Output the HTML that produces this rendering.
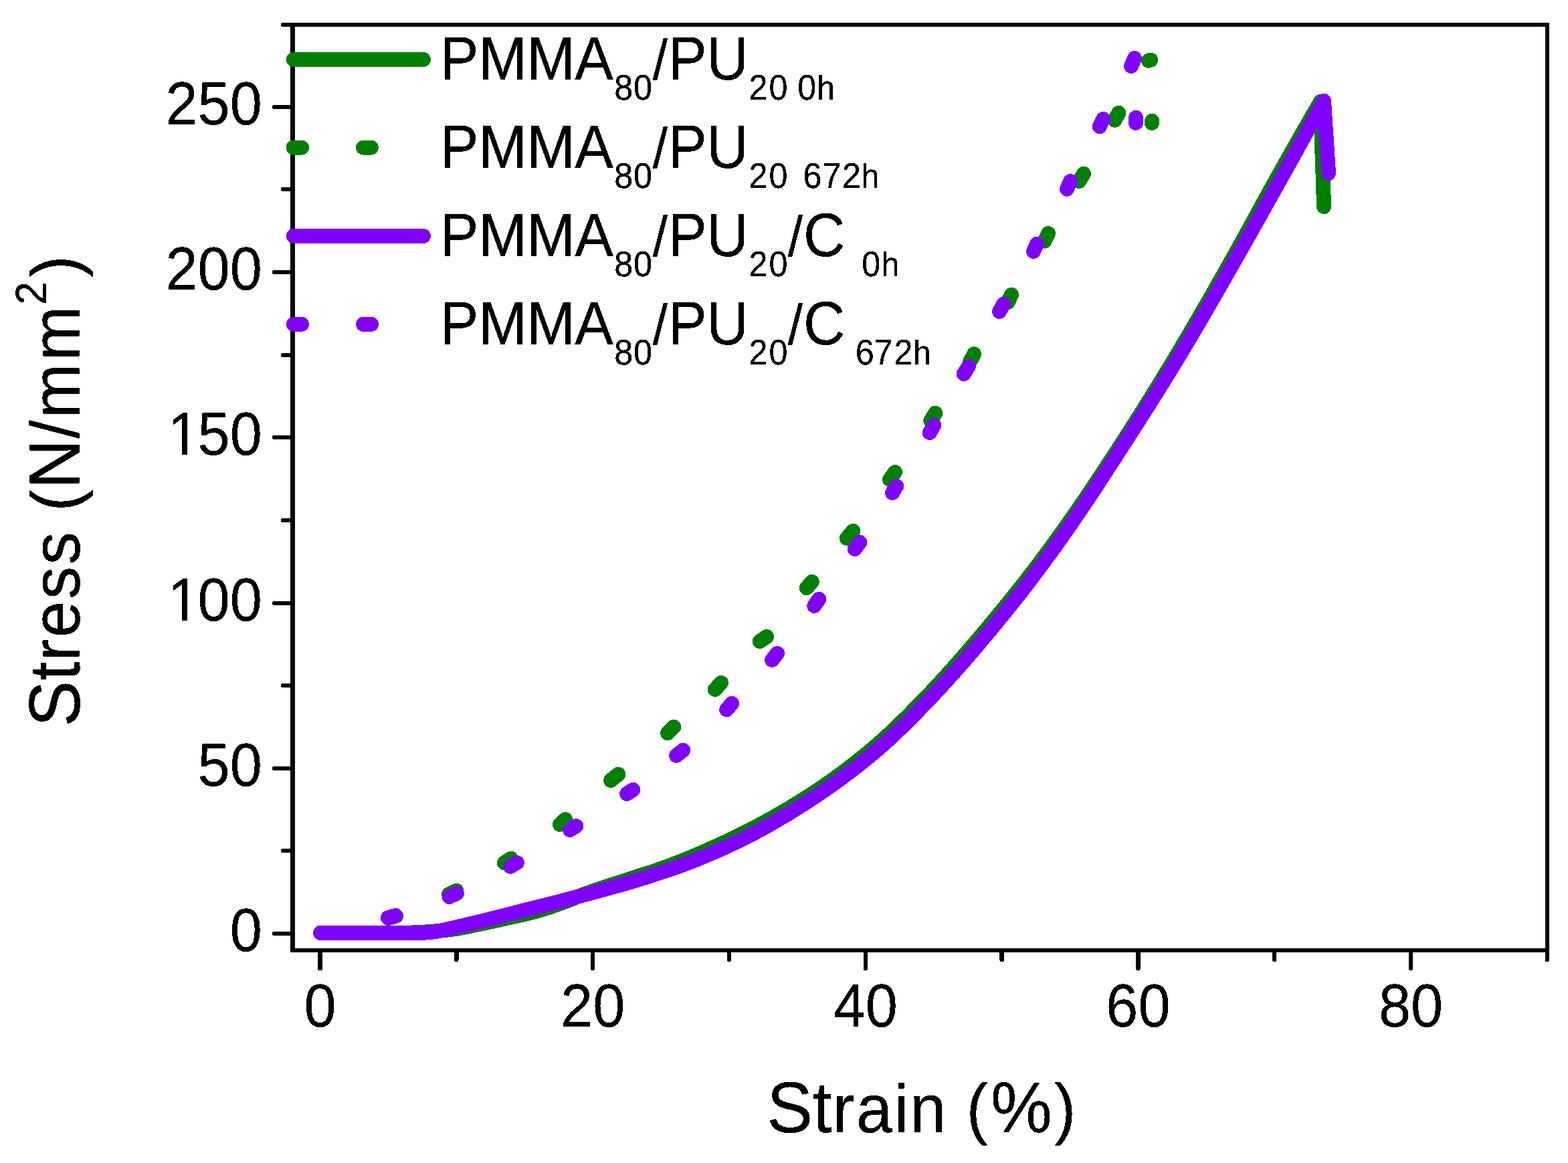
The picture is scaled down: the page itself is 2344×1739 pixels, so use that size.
<!DOCTYPE html>
<html lang="en">
<head>
<meta charset="utf-8">
<title>Stress-strain curves</title>
<style>
html,body{margin:0;padding:0;background:#ffffff;}
body{width:2344px;height:1739px;overflow:hidden;}
svg{display:block;}
</style>
</head>
<body>
<svg width="2344" height="1739" viewBox="0 0 2344 1739">
<rect x="0" y="0" width="2344" height="1739" fill="#ffffff"/>
<g id="frame" fill="#000000" shape-rendering="crispEdges">
<rect x="434" y="34" width="7" height="1390"/>
<rect x="2310" y="34" width="6" height="1390"/>
<rect x="434" y="34" width="1882" height="6"/>
<rect x="434" y="1418" width="1882" height="6"/>
</g>
<g id="ticks" stroke="#000000" stroke-width="6" stroke-linecap="round" fill="none" shape-rendering="crispEdges">
<line x1="410" y1="1396" x2="436" y2="1396"/>
<line x1="423" y1="1272" x2="436" y2="1272"/>
<line x1="410" y1="1149" x2="436" y2="1149"/>
<line x1="423" y1="1025" x2="436" y2="1025"/>
<line x1="410" y1="902" x2="436" y2="902"/>
<line x1="423" y1="778" x2="436" y2="778"/>
<line x1="410" y1="654" x2="436" y2="654"/>
<line x1="423" y1="531" x2="436" y2="531"/>
<line x1="410" y1="407" x2="436" y2="407"/>
<line x1="423" y1="283" x2="436" y2="283"/>
<line x1="410" y1="160" x2="436" y2="160"/>
<line x1="423" y1="37" x2="436" y2="37"/>
<line x1="478.5" y1="1422" x2="478.5" y2="1448" stroke-width="6.5"/>
<line x1="682.3" y1="1422" x2="682.3" y2="1435" stroke-width="6.5"/>
<line x1="886.1" y1="1422" x2="886.1" y2="1448" stroke-width="6.5"/>
<line x1="1089.9" y1="1422" x2="1089.9" y2="1435" stroke-width="6.5"/>
<line x1="1293.8" y1="1422" x2="1293.8" y2="1448" stroke-width="6.5"/>
<line x1="1497.6" y1="1422" x2="1497.6" y2="1435" stroke-width="6.5"/>
<line x1="1701.4" y1="1422" x2="1701.4" y2="1448" stroke-width="6.5"/>
<line x1="1905.2" y1="1422" x2="1905.2" y2="1435" stroke-width="6.5"/>
<line x1="2109.0" y1="1422" x2="2109.0" y2="1448" stroke-width="6.5"/>
<line x1="2312.8" y1="1422" x2="2312.8" y2="1435" stroke-width="6.5"/>
</g>
<g id="curves" fill="none" stroke-width="22" stroke-linecap="round" stroke-linejoin="round" shape-rendering="crispEdges">
<path stroke="#008000" d="M479.0,1394.9 L485.0,1394.9 L491.0,1394.9 L497.0,1394.9 L503.0,1394.9 L509.0,1394.9 L515.0,1394.9 L521.0,1394.9 L527.0,1394.9 L533.0,1394.9 L539.0,1394.9 L545.0,1394.9 L551.0,1394.9 L557.0,1394.9 L563.0,1394.9 L569.0,1394.9 L575.0,1394.9 L581.0,1394.9 L587.0,1394.9 L593.0,1394.9 L599.0,1394.9 L600.0,1394.9 L605.0,1394.8 L611.0,1394.7 L617.0,1394.4 L620.0,1394.3 L623.0,1394.2 L629.0,1393.9 L635.0,1393.5 L640.0,1393.2 L641.0,1393.1 L647.0,1392.7 L653.0,1392.2 L659.0,1391.6 L660.0,1391.5 L665.0,1391.0 L671.0,1390.3 L677.0,1389.6 L680.0,1389.2 L683.0,1388.8 L689.0,1387.7 L695.0,1386.6 L701.0,1385.3 L707.0,1384.0 L713.0,1382.7 L719.0,1381.4 L720.0,1381.2 L725.0,1380.2 L731.0,1378.9 L737.0,1377.6 L743.0,1376.3 L749.0,1375.0 L755.0,1373.6 L760.0,1372.5 L761.0,1372.3 L767.0,1370.9 L773.0,1369.6 L779.0,1368.3 L785.0,1366.9 L791.0,1365.4 L797.0,1363.9 L800.0,1363.1 L803.0,1362.3 L809.0,1360.5 L815.0,1358.7 L821.0,1356.8 L827.0,1354.7 L833.0,1352.7 L839.0,1350.6 L840.0,1350.2 L845.0,1348.3 L851.0,1345.9 L857.0,1343.5 L863.0,1341.0 L869.0,1338.7 L870.0,1338.3 L875.0,1336.5 L881.0,1334.3 L887.0,1332.2 L893.0,1330.2 L899.0,1328.1 L900.0,1327.8 L905.0,1326.1 L911.0,1324.2 L917.0,1322.2 L923.0,1320.3 L929.0,1318.4 L935.0,1316.5 L941.0,1314.6 L947.0,1312.6 L950.0,1311.6 L953.0,1310.6 L959.0,1308.6 L965.0,1306.6 L971.0,1304.7 L977.0,1302.7 L983.0,1300.6 L989.0,1298.5 L995.0,1296.4 L1001.0,1294.2 L1002.0,1293.8 L1007.0,1291.9 L1013.0,1289.6 L1019.0,1287.2 L1025.0,1284.8 L1031.0,1282.4 L1037.0,1279.9 L1043.0,1277.4 L1049.0,1274.8 L1055.0,1272.2 L1061.0,1269.5 L1067.0,1266.9 L1073.0,1264.1 L1079.0,1261.4 L1085.0,1258.6 L1091.0,1255.7 L1097.0,1252.9 L1100.0,1251.4 L1103.0,1249.9 L1109.0,1247.0 L1115.0,1244.0 L1121.0,1240.9 L1127.0,1237.8 L1133.0,1234.6 L1139.0,1231.4 L1145.0,1228.1 L1151.0,1224.8 L1157.0,1221.5 L1163.0,1218.0 L1169.0,1214.6 L1175.0,1211.1 L1181.0,1207.5 L1187.0,1203.8 L1193.0,1200.2 L1199.0,1196.4 L1200.0,1195.8 L1205.0,1192.6 L1211.0,1188.8 L1217.0,1184.8 L1223.0,1180.8 L1229.0,1176.8 L1235.0,1172.7 L1241.0,1168.5 L1247.0,1164.2 L1253.0,1159.8 L1259.0,1155.4 L1265.0,1150.9 L1271.0,1146.4 L1277.0,1141.7 L1283.0,1137.0 L1289.0,1132.2 L1295.0,1127.4 L1297.9,1125.0 L1301.0,1122.4 L1307.0,1117.3 L1313.0,1112.1 L1319.0,1106.8 L1325.0,1101.3 L1331.0,1095.8 L1337.0,1090.1 L1343.0,1084.3 L1349.0,1078.5 L1355.0,1072.6 L1361.0,1066.6 L1367.0,1060.5 L1373.0,1054.4 L1377.3,1050.0 L1379.0,1048.3 L1385.0,1042.0 L1391.0,1035.7 L1397.0,1029.3 L1403.0,1022.9 L1409.0,1016.3 L1415.0,1009.7 L1421.0,1003.1 L1427.0,996.3 L1433.0,989.6 L1439.0,982.7 L1445.0,975.8 L1451.0,968.8 L1457.0,961.8 L1463.0,954.7 L1469.0,947.6 L1475.0,940.5 L1481.0,933.3 L1487.0,926.0 L1493.0,918.7 L1499.0,911.4 L1505.0,904.1 L1508.3,900.0 L1511.0,896.7 L1517.0,889.2 L1523.0,881.7 L1529.0,874.1 L1535.0,866.4 L1541.0,858.6 L1547.0,850.7 L1553.0,842.8 L1559.0,834.8 L1565.0,826.7 L1571.0,818.6 L1577.0,810.4 L1583.0,802.1 L1584.5,800.0 L1589.0,793.7 L1595.0,785.3 L1601.0,776.7 L1607.0,768.1 L1613.0,759.4 L1619.0,750.6 L1625.0,741.8 L1631.0,732.8 L1637.0,723.9 L1643.0,714.8 L1649.0,705.8 L1655.0,696.6 L1661.0,687.5 L1667.0,678.3 L1673.0,669.0 L1679.0,659.8 L1685.0,650.5 L1685.3,650.0 L1691.0,641.1 L1697.0,631.7 L1703.0,622.3 L1709.0,612.7 L1715.0,603.2 L1721.0,593.5 L1727.0,583.8 L1733.0,574.1 L1739.0,564.3 L1745.0,554.4 L1751.0,544.5 L1757.0,534.5 L1759.7,530.0 L1763.0,524.5 L1769.0,514.4 L1775.0,504.2 L1781.0,494.0 L1787.0,483.7 L1793.0,473.4 L1799.0,463.0 L1805.0,452.6 L1811.0,442.1 L1817.0,431.6 L1823.0,421.0 L1829.0,410.5 L1835.0,399.9 L1841.0,389.2 L1846.2,380.0 L1847.0,378.6 L1853.0,367.8 L1859.0,357.0 L1865.0,346.1 L1871.0,335.1 L1877.0,324.2 L1883.0,313.2 L1889.0,302.2 L1895.0,291.3 L1901.0,280.4 L1906.8,270.0 L1907.0,269.6 L1913.0,258.9 L1919.0,248.3 L1925.0,237.6 L1931.0,227.0 L1937.0,216.5 L1943.0,205.9 L1949.0,195.4 L1955.0,184.9 L1961.0,174.5 L1967.0,164.1 L1973.0,153.7 L1974.0,152.0 L1979.1,309.1"/>
<path stroke="#008000" d="M580.8,1373.1 L592.0,1369.7 M671.1,1337.0 L682.4,1331.8 M753.9,1290.3 L763.9,1283.8 M837.0,1232.9 L845.2,1225.3 M913.1,1166.9 L924.4,1157.7 M998.0,1096.1 L1007.2,1086.9 M1068.8,1031.0 L1078.1,1021.0 M1135.8,959.0 L1146.0,952.0 M1205.8,879.1 L1213.8,869.9 M1265.9,804.9 L1275.3,793.9 M1330.0,717.1 L1338.0,706.1 M1391.3,628.9 L1398.3,617.7 M1450.0,540.8 L1456.0,529.4 M1506.5,452.2 L1512.0,440.8 M1561.7,360.6 L1567.1,349.1 M1613.4,270.9 L1620.0,259.8 M1666.3,179.7 L1672.3,168.9 M1717.0,90.7 L1720.2,89.7 M1721.9,184.0 L1722.2,180.8"/>
<path stroke="#8000ff" d="M479.0,1394.9 L485.0,1394.9 L491.0,1394.9 L497.0,1394.9 L503.0,1394.9 L509.0,1394.9 L515.0,1394.9 L521.0,1394.9 L527.0,1394.9 L533.0,1394.9 L539.0,1394.9 L545.0,1394.9 L551.0,1394.9 L557.0,1394.9 L563.0,1394.9 L569.0,1394.9 L575.0,1394.9 L581.0,1394.9 L587.0,1394.9 L593.0,1394.9 L599.0,1394.9 L605.0,1394.9 L611.0,1394.9 L617.0,1394.9 L623.0,1394.9 L628.0,1394.9 L629.0,1394.9 L635.0,1394.6 L640.0,1394.3 L641.0,1394.2 L647.0,1393.6 L651.0,1393.0 L653.0,1392.7 L659.0,1391.6 L665.0,1390.3 L671.0,1388.9 L677.0,1387.5 L680.0,1386.8 L683.0,1386.1 L689.0,1384.7 L695.0,1383.3 L701.0,1381.9 L707.0,1380.5 L713.0,1379.0 L719.0,1377.6 L725.0,1376.1 L731.0,1374.6 L737.0,1373.1 L743.0,1371.6 L749.0,1370.0 L755.0,1368.5 L761.0,1367.0 L767.0,1365.5 L773.0,1363.9 L779.0,1362.4 L785.0,1360.9 L791.0,1359.4 L797.0,1357.9 L800.0,1357.1 L803.0,1356.4 L809.0,1354.9 L815.0,1353.4 L821.0,1351.9 L827.0,1350.4 L833.0,1348.8 L839.0,1347.3 L840.0,1347.0 L845.0,1345.7 L851.0,1344.1 L857.0,1342.5 L863.0,1340.9 L869.0,1339.3 L875.0,1337.7 L881.0,1336.1 L887.0,1334.5 L893.0,1332.8 L899.0,1331.2 L905.0,1329.6 L911.0,1327.9 L917.0,1326.2 L923.0,1324.5 L929.0,1322.8 L935.0,1321.1 L941.0,1319.4 L947.0,1317.6 L953.0,1315.8 L959.0,1314.0 L965.0,1312.1 L971.0,1310.2 L977.0,1308.3 L983.0,1306.4 L989.0,1304.4 L995.0,1302.4 L1001.0,1300.3 L1002.0,1300.0 L1007.0,1298.3 L1013.0,1296.1 L1019.0,1293.9 L1025.0,1291.7 L1031.0,1289.4 L1037.0,1287.0 L1043.0,1284.7 L1049.0,1282.2 L1055.0,1279.7 L1061.0,1277.2 L1067.0,1274.6 L1073.0,1272.0 L1079.0,1269.3 L1085.0,1266.6 L1091.0,1263.8 L1097.0,1261.0 L1100.0,1259.6 L1103.0,1258.2 L1109.0,1255.2 L1115.0,1252.2 L1121.0,1249.2 L1127.0,1246.0 L1133.0,1242.8 L1139.0,1239.6 L1145.0,1236.3 L1151.0,1232.9 L1157.0,1229.4 L1163.0,1225.9 L1169.0,1222.4 L1175.0,1218.8 L1181.0,1215.2 L1187.0,1211.5 L1193.0,1207.7 L1199.0,1203.9 L1200.0,1203.3 L1205.0,1200.1 L1211.0,1196.2 L1217.0,1192.3 L1223.0,1188.2 L1229.0,1184.2 L1235.0,1180.0 L1241.0,1175.8 L1247.0,1171.5 L1253.0,1167.2 L1259.0,1162.8 L1265.0,1158.3 L1271.0,1153.8 L1277.0,1149.2 L1283.0,1144.5 L1289.0,1139.7 L1295.0,1134.9 L1301.0,1130.0 L1307.0,1125.0 L1313.0,1119.9 L1319.0,1114.7 L1325.0,1109.3 L1331.0,1103.8 L1337.0,1098.2 L1343.0,1092.4 L1349.0,1086.6 L1355.0,1080.7 L1361.0,1074.7 L1367.0,1068.6 L1373.0,1062.5 L1379.0,1056.3 L1385.0,1050.1 L1385.1,1050.0 L1391.0,1043.8 L1397.0,1037.5 L1403.0,1031.0 L1409.0,1024.5 L1415.0,1018.0 L1421.0,1011.3 L1427.0,1004.6 L1433.0,997.8 L1439.0,991.0 L1445.0,984.1 L1451.0,977.1 L1457.0,970.1 L1463.0,963.1 L1469.0,955.9 L1475.0,948.8 L1481.0,941.6 L1487.0,934.3 L1493.0,927.0 L1499.0,919.6 L1505.0,912.2 L1511.0,904.7 L1514.8,900.0 L1517.0,897.2 L1523.0,889.7 L1529.0,882.0 L1535.0,874.2 L1541.0,866.4 L1547.0,858.4 L1553.0,850.4 L1559.0,842.3 L1565.0,834.1 L1571.0,825.9 L1577.0,817.5 L1583.0,809.2 L1589.0,800.7 L1589.5,800.0 L1595.0,792.2 L1601.0,783.5 L1607.0,774.8 L1613.0,766.0 L1619.0,757.1 L1625.0,748.2 L1631.0,739.1 L1637.0,730.1 L1643.0,720.9 L1649.0,711.7 L1655.0,702.5 L1661.0,693.3 L1667.0,684.0 L1673.0,674.7 L1679.0,665.4 L1685.0,656.1 L1688.9,650.0 L1691.0,646.7 L1697.0,637.4 L1703.0,628.0 L1709.0,618.6 L1715.0,609.2 L1721.0,599.7 L1727.0,590.2 L1733.0,580.6 L1739.0,571.0 L1745.0,561.3 L1751.0,551.5 L1757.0,541.7 L1763.0,531.8 L1764.1,530.0 L1769.0,521.9 L1775.0,511.8 L1781.0,501.7 L1787.0,491.5 L1793.0,481.3 L1799.0,471.0 L1805.0,460.6 L1811.0,450.2 L1817.0,439.8 L1823.0,429.3 L1829.0,418.9 L1835.0,408.4 L1841.0,397.9 L1847.0,387.4 L1851.2,380.0 L1853.0,376.8 L1859.0,366.3 L1865.0,355.7 L1871.0,345.1 L1877.0,334.4 L1883.0,323.8 L1889.0,313.1 L1895.0,302.3 L1900.0,293.4 L1901.0,291.6 L1907.0,280.9 L1913.0,270.1 L1919.0,259.4 L1925.0,248.6 L1931.0,237.8 L1937.0,227.0 L1943.0,216.1 L1949.0,205.3 L1955.0,194.4 L1961.0,183.5 L1967.0,172.6 L1973.0,161.7 L1979.0,150.8 L1986.1,259.1"/>
<path stroke="#8000ff" d="M580.0,1372.3 L591.2,1368.9 M671.6,1341.0 L682.9,1335.8 M762.9,1295.7 L772.7,1289.9 M851.9,1241.0 L861.3,1235.2 M937.2,1186.9 L946.2,1180.9 M1011.1,1129.8 L1021.1,1121.8 M1086.1,1061.1 L1094.0,1051.9 M1154.0,986.8 L1162.0,977.0 M1217.2,905.9 L1224.2,895.9 M1277.9,821.0 L1285.2,811.0 M1334.0,737.0 L1340.2,727.0 M1389.8,646.9 L1396.2,635.9 M1440.8,559.1 L1447.8,548.1 M1494.0,465.8 L1500.0,454.9 M1545.0,375.9 L1550.1,364.8 M1595.0,282.7 L1600.0,271.1 M1643.8,189.2 L1649.2,178.0 M1691.0,99.0 L1696.0,87.0 M1697.9,183.9 L1698.1,175.8"/>
</g>
<defs><filter id="aliased" x="0" y="0" width="2344" height="1739" filterUnits="userSpaceOnUse" color-interpolation-filters="sRGB"><feComponentTransfer><feFuncA type="discrete" tableValues="0 1 1"/></feComponentTransfer></filter></defs>
<g id="labels" font-family="'Liberation Sans', Arial, Helvetica, sans-serif" fill="#000000" text-rendering="geometricPrecision" filter="url(#aliased)">
<text transform="translate(343.69,1422.2) scale(1,1.05)" xml:space="preserve"><tspan x="0" y="0" font-size="86.5">0</tspan></text>
<text transform="translate(295.59,1175.2) scale(1,1.05)" xml:space="preserve"><tspan x="0 48.11" y="0" font-size="86.5">50</tspan></text>
<text transform="translate(250.68,928.2) scale(1,1.05)" xml:space="preserve"><tspan x="0 44.91 93.01" y="0" font-size="86.5">100</tspan></text>
<text transform="translate(250.68,680.2) scale(1,1.05)" xml:space="preserve"><tspan x="0 44.91 93.01" y="0" font-size="86.5">150</tspan></text>
<text transform="translate(247.48,433.2) scale(1,1.05)" xml:space="preserve"><tspan x="0 48.11 96.21" y="0" font-size="86.5">200</tspan></text>
<text transform="translate(247.48,186.2) scale(1,1.05)" xml:space="preserve"><tspan x="0 48.11 96.21" y="0" font-size="86.5">250</tspan></text>
<text transform="translate(454.45,1535.1) scale(1,1.05)" xml:space="preserve"><tspan x="0" y="0" font-size="86.5">0</tspan></text>
<text transform="translate(838.02,1535.1) scale(1,1.05)" xml:space="preserve"><tspan x="0 48.11" y="0" font-size="86.5">20</tspan></text>
<text transform="translate(1245.64,1535.1) scale(1,1.05)" xml:space="preserve"><tspan x="0 48.11" y="0" font-size="86.5">40</tspan></text>
<text transform="translate(1653.27,1535.1) scale(1,1.05)" xml:space="preserve"><tspan x="0 48.11" y="0" font-size="86.5">60</tspan></text>
<text transform="translate(2060.89,1535.1) scale(1,1.05)" xml:space="preserve"><tspan x="0 48.11" y="0" font-size="86.5">80</tspan></text>
<text transform="translate(1146.2,1693.2) scale(1,1.044)" xml:space="preserve"><tspan x="0" y="0" font-size="103.3">S</tspan><tspan x="68.9" y="0" font-size="103.3">t</tspan><tspan x="98.49 133.49 190.04 213.89 270.59" y="0" font-size="97.96">rain </tspan><tspan x="298.27" y="-0.77" font-size="97.46">(</tspan><tspan x="334.7" y="0" font-size="103.3">%</tspan><tspan x="429.77" y="-0.77" font-size="97.46">)</tspan></text>
<g transform="translate(118.1,1086.7) rotate(-90)"><text transform="translate(0,0) scale(1,1.044)" xml:space="preserve"><tspan x="0" y="0" font-size="103.3">S</tspan><tspan x="68.9" y="0" font-size="103.3">t</tspan><tspan x="98.49 133.49 190.79 242.44 293.49" y="0" font-size="97.96">ress </tspan><tspan x="322.37" y="-0.77" font-size="97.46">(</tspan><tspan x="355.8" y="0" font-size="103.3">N</tspan><tspan x="431.14" y="-0.38" font-size="97.96">/</tspan><tspan x="461.33 547.38" y="0" font-size="97.96">mm</tspan><tspan x="631.1" y="-47.8" font-size="62">2</tspan><tspan x="671.97" y="-0.77" font-size="97.46">)</tspan></text></g>
<text transform="translate(657.8,119) scale(1,1.063)" xml:space="preserve"><tspan x="0 57.63 129.6 201.57" y="0" font-size="86.4">PMMA</tspan><tspan x="260.33 289.08" y="27.94" font-size="50.34">80</tspan><tspan x="317.92" y="-0.47" font-size="80.47">/</tspan><tspan x="341.1 398.73" y="0" font-size="86.4">PU</tspan><tspan x="461.68 491.58 520.09 534.48" y="27.94" font-size="50.34">20 0</tspan><tspan x="563.39" y="27.94" font-size="48.15">h</tspan></text>
<text transform="translate(657.8,251) scale(1,1.063)" xml:space="preserve"><tspan x="0 57.63 129.6 201.57" y="0" font-size="86.4">PMMA</tspan><tspan x="260.33 289.08" y="27.94" font-size="50.34">80</tspan><tspan x="317.92" y="-0.47" font-size="80.47">/</tspan><tspan x="341.1 398.73" y="0" font-size="86.4">PU</tspan><tspan x="461.68 491.58" y="27.94" font-size="50.34">20</tspan><tspan x="519.2" y="0" font-size="86.4"> </tspan><tspan x="542.78 571.68 601.08" y="27.94" font-size="50.34">672</tspan><tspan x="629.59" y="27.94" font-size="48.15">h</tspan></text>
<text transform="translate(657.8,383) scale(1,1.063)" xml:space="preserve"><tspan x="0 57.63 129.6 201.57" y="0" font-size="86.4">PMMA</tspan><tspan x="260.33 289.08" y="27.94" font-size="50.34">80</tspan><tspan x="317.92" y="-0.47" font-size="80.47">/</tspan><tspan x="341.1 398.73" y="0" font-size="86.4">PU</tspan><tspan x="461.68 491.58" y="27.94" font-size="50.34">20</tspan><tspan x="519.92" y="-0.47" font-size="80.47">/</tspan><tspan x="543.1" y="0" font-size="86.4">C</tspan><tspan x="615.79 630.38" y="27.94" font-size="50.34"> 0</tspan><tspan x="659.59" y="27.94" font-size="48.15">h</tspan></text>
<text transform="translate(657.8,515) scale(1,1.063)" xml:space="preserve"><tspan x="0 57.63 129.6 201.57" y="0" font-size="86.4">PMMA</tspan><tspan x="260.33 289.08" y="27.94" font-size="50.34">80</tspan><tspan x="317.92" y="-0.47" font-size="80.47">/</tspan><tspan x="341.1 398.73" y="0" font-size="86.4">PU</tspan><tspan x="461.68 491.58" y="27.94" font-size="50.34">20</tspan><tspan x="519.92" y="-0.47" font-size="80.47">/</tspan><tspan x="543.1" y="0" font-size="86.4">C</tspan><tspan x="606.39 620.98 648.78 678.58" y="27.94" font-size="50.34"> 672</tspan><tspan x="707.29" y="27.94" font-size="48.15">h</tspan></text>
</g>
<g id="covers" fill="#ffffff" shape-rendering="crispEdges">
<rect x="256" y="920" width="16" height="10"/>
<rect x="280" y="920" width="16" height="10"/>
<rect x="256" y="672" width="16" height="10"/>
<rect x="280" y="672" width="16" height="10"/>
</g>
<g id="legend" stroke-width="22" stroke-linecap="round" fill="none" shape-rendering="crispEdges">
<line x1="438.7" y1="89" x2="633" y2="89" stroke="#008000"/>
<path d="M438.7,220.6 h12.3 M543,220.6 h11.9" stroke="#008000"/>
<line x1="438.7" y1="353" x2="633" y2="353" stroke="#8000ff"/>
<path d="M438.7,484.8 h12.3 M543,484.8 h11.9" stroke="#8000ff"/>
</g>
</svg>
</body>
</html>
